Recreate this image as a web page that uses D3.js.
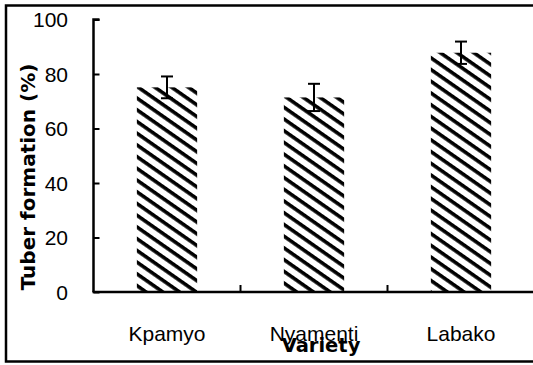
<!DOCTYPE html>
<html>
<head>
<meta charset="utf-8">
<script src="https://cdn.jsdelivr.net/npm/d3@7"></script>
<style>
  html, body { margin: 0; padding: 0; background: #fff; }
  svg { display: block; }
</style>
</head>
<body>
<svg id="chart" width="533" height="365"></svg>
<script>
// valores
const varieties = ["Kpamyo", "Nyamenti", "Labako"];
const tuberFormation = [75.1, 71.4, 87.8];
const stdErr = [4.0, 5.0, 4.1];
const yTicks = [0, 20, 40, 60, 80, 100];

const svg = d3.select("#chart");

// moldura externa (lado direito fica fora da imagem)
svg.append("rect")
  .attr("x", 6).attr("y", 5.5)
  .attr("width", 560).attr("height", 356)
  .attr("fill", "none").attr("stroke", "#000").attr("stroke-width", 2.5);

// hachura diagonal
const defs = svg.append("defs");
const pat = defs.append("pattern")
  .attr("id", "hatch")
  .attr("patternUnits", "userSpaceOnUse")
  .attr("width", 20).attr("height", 9.6)
  .attr("patternTransform", "rotate(35)");
pat.append("rect").attr("width", 20).attr("height", 9.6).attr("fill", "#fff");
pat.append("rect").attr("y", 0).attr("width", 20).attr("height", 3.6).attr("fill", "#000");

const x = d3.scaleBand()
  .domain(varieties)
  .range([93.5, 534.5])
  .paddingInner(0.59)
  .paddingOuter(0.295);

const y = d3.scaleLinear().domain([0, 100]).range([292, 19.5]);

// barras
svg.append("g").selectAll("rect")
  .data(varieties)
  .join("rect")
  .attr("x", d => x(d))
  .attr("y", (d, i) => y(tuberFormation[i]))
  .attr("width", x.bandwidth())
  .attr("height", (d, i) => y(0) - y(tuberFormation[i]))
  .attr("fill", "url(#hatch)");

// barras de erro
const eb = svg.append("g").attr("stroke", "#000").attr("stroke-width", 2);
varieties.forEach((v, i) => {
  const cx = x(v) + x.bandwidth() / 2;
  const hi = y(tuberFormation[i] + stdErr[i]);
  const lo = y(tuberFormation[i] - stdErr[i]);
  eb.append("line").attr("x1", cx).attr("x2", cx).attr("y1", hi).attr("y2", lo);
  eb.append("line").attr("x1", cx - 6).attr("x2", cx + 6).attr("y1", hi).attr("y2", hi);
  eb.append("line").attr("x1", cx - 6).attr("x2", cx + 6).attr("y1", lo).attr("y2", lo);
});

// eixo y
const yAxis = svg.append("g")
  .attr("transform", "translate(93.5,0)")
  .call(d3.axisRight(y).tickValues(yTicks).tickSize(6).tickFormat(""));
yAxis.select(".domain").attr("d", `M6,${y(100)}H0V${y(0)}`).attr("stroke-width", 2.5);
yAxis.selectAll(".tick line").attr("stroke-width", 2);

svg.append("g").selectAll("text")
  .data(yTicks)
  .join("text")
  .attr("x", 68)
  .attr("y", d => y(d))
  .attr("dy", "0.36em")
  .attr("text-anchor", "end")
  .attr("font-family", "Liberation Sans, Arial, sans-serif")
  .attr("font-size", 21)
  .text(d => d);

// eixo x
svg.append("line")
  .attr("x1", 92.5).attr("x2", 540)
  .attr("y1", y(0)).attr("y2", y(0))
  .attr("stroke", "#000").attr("stroke-width", 2.7);

const step = x.step();
const sepTicks = varieties.slice(1).map(v => x(v) - step * x.paddingInner() / 2);
svg.append("g").selectAll("line")
  .data(sepTicks)
  .join("line")
  .attr("x1", d => d).attr("x2", d => d)
  .attr("y1", y(0)).attr("y2", y(0) - 7)
  .attr("stroke", "#000").attr("stroke-width", 2);

svg.append("g").selectAll("text")
  .data(varieties)
  .join("text")
  .attr("x", d => x(d) + x.bandwidth() / 2)
  .attr("y", 341)
  .attr("text-anchor", "middle")
  .attr("font-family", "Liberation Sans, Arial, sans-serif")
  .attr("font-size", 21)
  .text(d => d);

// titulos
svg.append("text")
  .attr("x", 321).attr("y", 352)
  .attr("text-anchor", "middle")
  .attr("font-family", "DejaVu Sans, sans-serif")
  .attr("font-weight", "bold")
  .attr("font-size", 19.5)
  .text("Variety");

svg.append("text")
  .attr("transform", "translate(35,177) rotate(-90)")
  .attr("text-anchor", "middle")
  .attr("font-family", "DejaVu Sans, sans-serif")
  .attr("font-weight", "bold")
  .attr("font-size", 20)
  .text("Tuber formation (%)");
</script>
</body>
</html>
